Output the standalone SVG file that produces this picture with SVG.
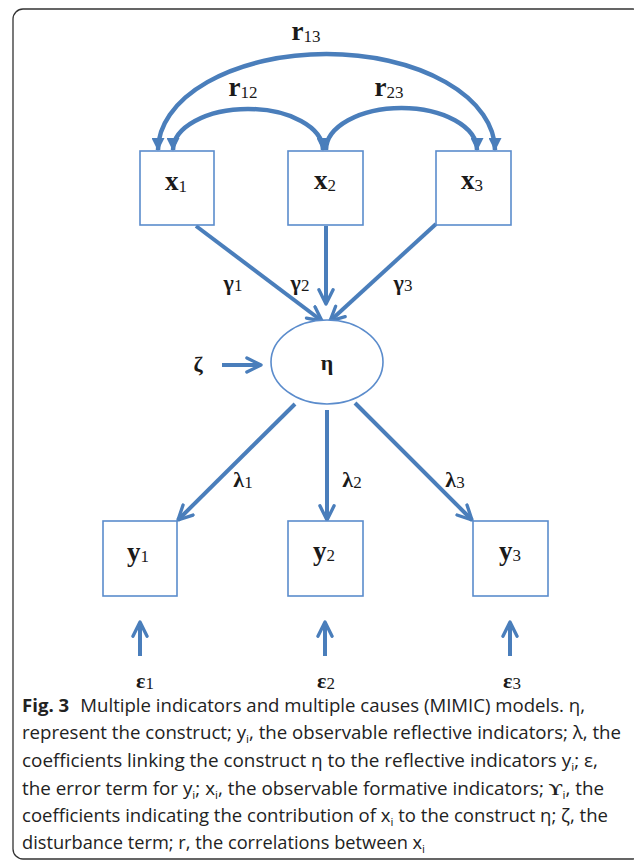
<svg xmlns="http://www.w3.org/2000/svg" width="634" height="861" viewBox="0 0 634 861">
<style>
.frame{fill:none;stroke:#333;stroke-width:1.3}
.box{fill:#fff;stroke:#5b8ccc;stroke-width:1.6}
.ln{fill:none;stroke:#4a7ebb;stroke-width:4}
.arc{fill:none;stroke:#4a7ebb;stroke-width:4.5}
.lbl{font-family:"Liberation Serif","DejaVu Serif",serif;fill:#1a1a1a;text-anchor:middle}
.big{font-size:27px;font-weight:bold}
.gr{font-size:22px;font-weight:bold}
.sub{font-size:17px;font-weight:normal}
.cap{font-family:"Open Sans","Liberation Sans",sans-serif;font-size:17.5px;fill:#222}
.cs{font-size:11px}
</style>
<defs>
<marker id="tri" markerUnits="userSpaceOnUse" viewBox="0 0 12 12" refX="11" refY="6" markerWidth="13" markerHeight="13" orient="auto-start-reverse">
<path d="M0,0 L12,6 L0,12 z" fill="#4a7ebb"/>
</marker>
<marker id="open" markerUnits="userSpaceOnUse" viewBox="0 0 14 14" refX="12.5" refY="7" markerWidth="18" markerHeight="18" orient="auto">
<path d="M1.5,1.5 L12.5,7 L1.5,12.5" fill="none" stroke="#4a7ebb" stroke-width="2.6" stroke-linecap="round" stroke-linejoin="round"/>
</marker>
</defs>
<rect class="frame" x="13" y="9" width="630" height="850" rx="10"/>

<g id="connectors">
<path class="arc" d="M158,150 A168.5 96 0 0 1 495,150" marker-start="url(#tri)" marker-end="url(#tri)"/>
<path class="arc" d="M173,150 A75 41 0 0 1 323,150" marker-start="url(#tri)" marker-end="url(#tri)"/>
<path class="arc" d="M326,150 A75.5 42 0 0 1 477,150" marker-end="url(#tri)"/>
<line class="ln" x1="196" y1="226" x2="322" y2="321" marker-end="url(#open)"/>
<line class="ln" x1="326" y1="226" x2="326" y2="304" marker-end="url(#open)"/>
<line class="ln" x1="436" y1="224" x2="330" y2="321" marker-end="url(#open)"/>
<line class="ln" x1="222" y1="365" x2="261" y2="365" marker-end="url(#open)"/>
<line class="ln" x1="295" y1="404" x2="178" y2="520" marker-end="url(#open)"/>
<line class="ln" x1="327" y1="410" x2="327" y2="520" marker-end="url(#open)"/>
<line class="ln" x1="355" y1="403" x2="472" y2="520" marker-end="url(#open)"/>
<line class="ln" x1="140" y1="656" x2="140" y2="622" marker-end="url(#open)"/>
<line class="ln" x1="325" y1="656" x2="325" y2="622" marker-end="url(#open)"/>
<line class="ln" x1="510" y1="656" x2="510" y2="622" marker-end="url(#open)"/>
<text class="lbl big" x="306" y="40">r<tspan class="sub" dy="2">13</tspan></text>
<text class="lbl big" x="243" y="96">r<tspan class="sub" dy="2">12</tspan></text>
<text class="lbl big" x="389" y="96">r<tspan class="sub" dy="2">23</tspan></text>
<text class="lbl gr" x="233" y="290">γ<tspan class="sub" dy="1">1</tspan></text>
<text class="lbl gr" x="300" y="290">γ<tspan class="sub" dy="1">2</tspan></text>
<text class="lbl gr" x="403" y="290">γ<tspan class="sub" dy="1">3</tspan></text>
<text class="lbl gr" x="243" y="487">λ<tspan class="sub" dy="1">1</tspan></text>
<text class="lbl gr" x="352" y="487">λ<tspan class="sub" dy="1">2</tspan></text>
<text class="lbl gr" x="455" y="487">λ<tspan class="sub" dy="1">3</tspan></text>
</g>

<g id="x1"><rect class="box" x="140" y="151" width="74" height="74"/><text class="lbl big" x="176" y="190">x<tspan class="sub" dy="2">1</tspan></text></g>
<g id="x2"><rect class="box" x="288" y="151" width="75" height="74"/><text class="lbl big" x="325" y="189">x<tspan class="sub" dy="2">2</tspan></text></g>
<g id="x3"><rect class="box" x="436" y="151" width="75" height="74"/><text class="lbl big" x="472" y="189">x<tspan class="sub" dy="2">3</tspan></text></g>
<g id="eta"><ellipse class="box" cx="327" cy="362" rx="56" ry="42"/><text class="lbl gr" x="327" y="370">η</text></g>
<g id="zeta"><text class="lbl gr" x="198" y="372">ζ</text></g>
<g id="y1"><rect class="box" x="103" y="521" width="74" height="75"/><text class="lbl big" x="138" y="561">y<tspan class="sub" dy="1">1</tspan></text></g>
<g id="y2"><rect class="box" x="288" y="521" width="75" height="75"/><text class="lbl big" x="324" y="560">y<tspan class="sub" dy="1">2</tspan></text></g>
<g id="y3"><rect class="box" x="473" y="521" width="75" height="75"/><text class="lbl big" x="510" y="560">y<tspan class="sub" dy="1">3</tspan></text></g>
<g id="e1"><text class="lbl gr" x="145" y="688">ε<tspan class="sub" dy="1">1</tspan></text></g>
<g id="e2"><text class="lbl gr" x="326" y="688">ε<tspan class="sub" dy="1">2</tspan></text></g>
<g id="e3"><text class="lbl gr" x="512" y="688">ε<tspan class="sub" dy="1">3</tspan></text></g>

<g id="caption">
<text class="cap" x="22" y="712" textLength="563" lengthAdjust="spacingAndGlyphs"><tspan font-weight="bold">Fig. 3</tspan><tspan dx="6"> Multiple indicators and multiple causes (MIMIC) models. η,</tspan></text>
<text class="cap" x="22" y="739" textLength="599" lengthAdjust="spacingAndGlyphs">represent the construct; y<tspan class="cs" dy="4">i</tspan><tspan dy="-4">, the observable reflective indicators; λ, the</tspan></text>
<text class="cap" x="22" y="767" textLength="576" lengthAdjust="spacingAndGlyphs">coefficients linking the construct η to the reflective indicators y<tspan class="cs" dy="4">i</tspan><tspan dy="-4">; ε,</tspan></text>
<text class="cap" x="22" y="795" textLength="582" lengthAdjust="spacingAndGlyphs">the error term for y<tspan class="cs" dy="4">i</tspan><tspan dy="-4">; x</tspan><tspan class="cs" dy="4">i</tspan><tspan dy="-4">, the observable formative indicators; </tspan><tspan font-family="Liberation Serif,serif" font-weight="bold">ϒ</tspan><tspan class="cs" dy="4">i</tspan><tspan dy="-4">, the</tspan></text>
<text class="cap" x="22" y="822" textLength="586" lengthAdjust="spacingAndGlyphs">coefficients indicating the contribution of x<tspan class="cs" dy="4">i</tspan><tspan dy="-4"> to the construct η; ζ, the</tspan></text>
<text class="cap" x="22" y="849" textLength="403" lengthAdjust="spacingAndGlyphs">disturbance term; r, the correlations between x<tspan class="cs" dy="4">i</tspan></text>
</g>
</svg>
